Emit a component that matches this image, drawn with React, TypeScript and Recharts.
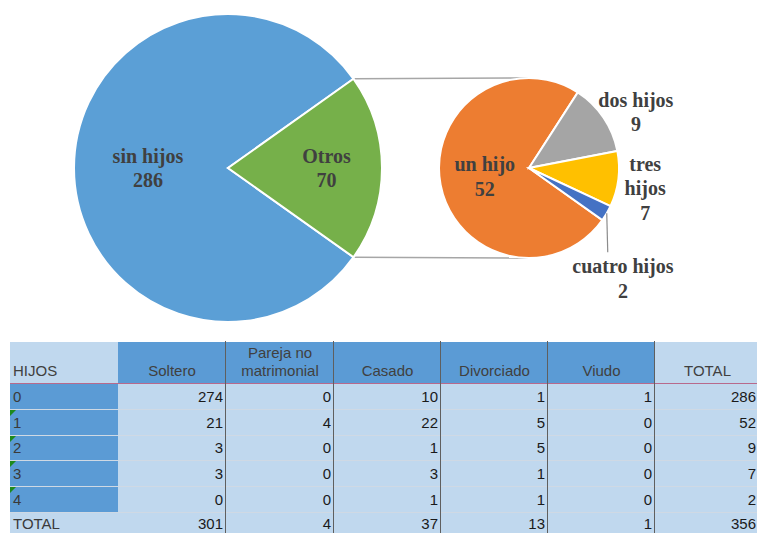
import { PieChart, Pie, Cell, Customized } from 'recharts';

// --- data ---
const mainNames = ['sin hijos', 'Otros'];
const mainValues = [286, 70];
const subNames = ['un hijo', 'dos hijos', 'tres hijos', 'cuatro hijos'];
const subValues = [52, 9, 7, 2];

// --- table ---
const headers = ['HIJOS', 'Soltero', 'Pareja no matrimonial', 'Casado', 'Divorciado', 'Viudo', 'TOTAL'];
const rowLabels = ['0', '1', '2', '3', '4', 'TOTAL'];
const soltero = [274, 21, 3, 3, 0, 301];
const pareja = [0, 4, 0, 0, 0, 4];
const casado = [10, 22, 1, 3, 1, 37];
const divorciado = [1, 5, 5, 1, 1, 13];
const viudo = [1, 0, 0, 0, 0, 1];
const total = [286, 52, 9, 7, 2, 356];

const MAIN_COLORS = ['#5b9fd6', '#76b04a'];
const SUB_COLORS = ['#ed7d31', '#a5a5a5', '#ffc000', '#4472c4'];

const mainData = mainNames.map((name, i) => ({ name, value: mainValues[i] }));
const subData = subNames.map((name, i) => ({ name, value: subValues[i] }));

const otherShare = mainValues[1] / (mainValues[0] + mainValues[1]);
const START = -otherShare * 180;

const M = { cx: 228, cy: 168, r: 154 };
const S = { cx: 529, cy: 168, r: 90 };
const RAD = Math.PI / 180;
const LABEL_FONT = '"Liberation Serif", "Times New Roman", serif';
const LABEL_COLOR = '#404040';

const LabelText = ({ x, y, lines }: { x: number; y: number; lines: string[] }) => {
  const lh = 24.5;
  const top = y - ((lines.length - 1) * lh) / 2 + 7;
  return (
    <text textAnchor="middle" fontFamily={LABEL_FONT} fontWeight="bold" fontSize={20} fill={LABEL_COLOR}>
      {lines.map((l, i) => (
        <tspan key={i} x={x} y={top + i * lh}>
          {l}
        </tspan>
      ))}
    </text>
  );
};

const mainLabelRadius: Record<string, number> = { 'sin hijos': 0.52, Otros: 0.64 };

const renderMainLabel = (p: any) => {
  const f = mainLabelRadius[p.name];
  const x = p.cx + p.outerRadius * f * Math.cos(-p.midAngle * RAD);
  const y = p.cy + p.outerRadius * f * Math.sin(-p.midAngle * RAD);
  return <LabelText x={x} y={y} lines={[p.name, String(p.value)]} />;
};

// label placement: distance factor and angle (deg) from the small pie centre
const subLabelPos: Record<string, { f: number; a?: number; lines: (v: number) => string[] }> = {
  'un hijo': { f: 0.5, lines: (v) => ['un hijo', String(v)] },
  'dos hijos': { f: 1.34, a: 27.6, lines: (v) => ['dos hijos', String(v)] },
  'tres hijos': { f: 1.31, a: -9.8, lines: (v) => ['tres', 'hijos', String(v)] },
  'cuatro hijos': { f: 1.61, a: -49.6, lines: (v) => ['cuatro hijos', String(v)] },
};

const renderSubLabel = (p: any) => {
  const cfg = subLabelPos[p.name];
  const ang = cfg.a ?? p.midAngle;
  const x = p.cx + p.outerRadius * cfg.f * Math.cos(-ang * RAD);
  const y = p.cy + p.outerRadius * cfg.f * Math.sin(-ang * RAD);
  const lines = cfg.lines(p.value);
  let leader = null;
  if (p.name === 'cuatro hijos') {
    const ex = p.cx + p.outerRadius * Math.cos(-p.midAngle * RAD);
    const ey = p.cy + p.outerRadius * Math.sin(-p.midAngle * RAD);
    leader = <polyline points={`${ex},${ey} ${ex + 1},${y - 26}`} fill="none" stroke="#8c8c8c" strokeWidth={1.2} />;
  }
  return (
    <g>
      {leader}
      <LabelText x={x} y={y} lines={lines} />
    </g>
  );
};

// tangent point from an outside point to the small circle
const tangent = (px: number, py: number, sign: number) => {
  const dx = px - S.cx;
  const dy = py - S.cy;
  const d = Math.hypot(dx, dy);
  const base = Math.atan2(dy, dx);
  const t = base + sign * Math.acos(S.r / d);
  return [S.cx + S.r * Math.cos(t), S.cy + S.r * Math.sin(t)];
};

const Connectors = () => {
  const ax = M.cx + M.r * Math.cos(START * RAD);
  const ay = M.cy + M.r * Math.sin(START * RAD);
  const bx = ax;
  const by = M.cy - M.r * Math.sin(START * RAD);
  const [tx1, ty1] = tangent(ax, ay, 1);
  const [tx2, ty2] = tangent(bx, by, -1);
  return (
    <g>
      <line x1={ax} y1={ay} x2={tx1} y2={ty1} stroke="#a6a6a6" strokeWidth={1.5} />
      <line x1={bx} y1={by} x2={tx2} y2={ty2} stroke="#a6a6a6" strokeWidth={1.5} />
    </g>
  );
};

const COL_X = [10, 118, 226, 334, 441, 548, 655, 760];
const HEADER_H = 42;
const ROW_H = 25.8;
const LAST_ROW_H = 20;
const TABLE_TOP = 342;
const DARK = '#5b9bd5';
const LIGHT = '#c0d8ee';
const TEXT = '#3a3a3a';

const DataTable = () => {
  const cols = [soltero, pareja, casado, divorciado, viudo, total];
  const cells: any[] = [];
  headers.forEach((h, c) => {
    const dark = c > 0 && c < 6;
    cells.push(
      <div
        key={`h${c}`}
        style={{
          position: 'absolute',
          left: COL_X[c],
          top: TABLE_TOP,
          width: COL_X[c + 1] - COL_X[c],
          height: HEADER_H,
          background: dark ? DARK : LIGHT,
          display: 'flex',
          alignItems: 'flex-end',
          justifyContent: c === 0 ? 'flex-start' : 'center',
          textAlign: 'center',
          boxSizing: 'border-box',
          padding: '0 3px 3px 3px',
          borderBottom: '1px solid #b86a8c',
          lineHeight: '18px',
          whiteSpace: 'nowrap',
        }}
      >
        {c === 2 ? (
          <span>
            Pareja no
            <br />
            matrimonial
          </span>
        ) : (
          h
        )}
      </div>
    );
  });
  rowLabels.forEach((lab, r) => {
    const top = TABLE_TOP + HEADER_H + r * ROW_H;
    const isTotal = r === rowLabels.length - 1;
    const h = isTotal ? LAST_ROW_H : ROW_H;
    cells.push(
      <div
        key={`l${r}`}
        style={{
          position: 'absolute',
          left: COL_X[0],
          top,
          width: COL_X[1] - COL_X[0],
          height: h,
          background: isTotal ? LIGHT : DARK,
          borderBottom: isTotal ? 'none' : '1px solid #cfd9e4',
          boxSizing: 'border-box',
          padding: '0 3px',
          display: 'flex',
          alignItems: 'center',
          color: TEXT,
        }}
      >
        {!isTotal && r > 0 && (
          <div
            style={{
              position: 'absolute',
              left: 0,
              top: 0,
              width: 0,
              height: 0,
              borderTop: '6px solid #1d8a1d',
              borderRight: '6px solid transparent',
            }}
          />
        )}
        {lab}
      </div>
    );
    cols.forEach((col, c) => {
      const last = c === cols.length - 1;
      cells.push(
        <div
          key={`c${r}-${c}`}
          style={{
            position: 'absolute',
            left: COL_X[c + 1],
            top,
            width: COL_X[c + 2] - COL_X[c + 1],
            height: h,
            background: LIGHT,
            borderBottom: isTotal ? 'none' : '1px solid #cfd9e4',
            boxSizing: 'border-box',
            padding: last ? '0 4px 0 3px' : '0 3px',
            display: 'flex',
            alignItems: 'center',
            justifyContent: 'flex-end',
            color: '#1a1a1a',
          }}
        >
          {col[r]}
        </div>
      );
    });
  });
  // dark vertical rules
  COL_X.slice(2, 7).forEach((x, i) => {
    cells.push(
      <div
        key={`v${i}`}
        style={{ position: 'absolute', left: x - 1, top: TABLE_TOP - 1, width: 1, height: 200, background: '#5f5f5f' }}
      />
    );
  });
  return <>{cells}</>;
};

export default function App() {
  return (
    <div
      style={{
        position: 'absolute',
        left: 0,
        top: 0,
        width: 757,
        height: 533,
        overflow: 'hidden',
        background: '#ffffff',
        fontFamily: '"Liberation Sans", Arial, sans-serif',
        fontSize: 15,
        color: '#404040',
      }}
    >
      <div style={{ position: 'absolute', left: 0, top: 0 }}>
        <PieChart width={757} height={330} margin={{ top: 0, right: 0, bottom: 0, left: 0 }}>
          <Customized component={Connectors} />
          <Pie
            data={mainData}
            dataKey="value"
            nameKey="name"
            cx={M.cx}
            cy={M.cy}
            outerRadius={M.r}
            startAngle={START}
            endAngle={START - 360}
            stroke="#ffffff"
            strokeWidth={2}
            label={renderMainLabel}
            labelLine={false}
            isAnimationActive={false}
          >
            {mainData.map((d, i) => (
              <Cell key={d.name} fill={MAIN_COLORS[i]} />
            ))}
          </Pie>
          <Pie
            data={subData}
            dataKey="value"
            nameKey="name"
            cx={S.cx}
            cy={S.cy}
            outerRadius={S.r}
            startAngle={START}
            endAngle={START - 360}
            stroke="#ffffff"
            strokeWidth={2}
            label={renderSubLabel}
            labelLine={false}
            isAnimationActive={false}
          >
            {subData.map((d, i) => (
              <Cell key={d.name} fill={SUB_COLORS[i]} />
            ))}
          </Pie>
        </PieChart>
      </div>
      <DataTable />
    </div>
  );
}
